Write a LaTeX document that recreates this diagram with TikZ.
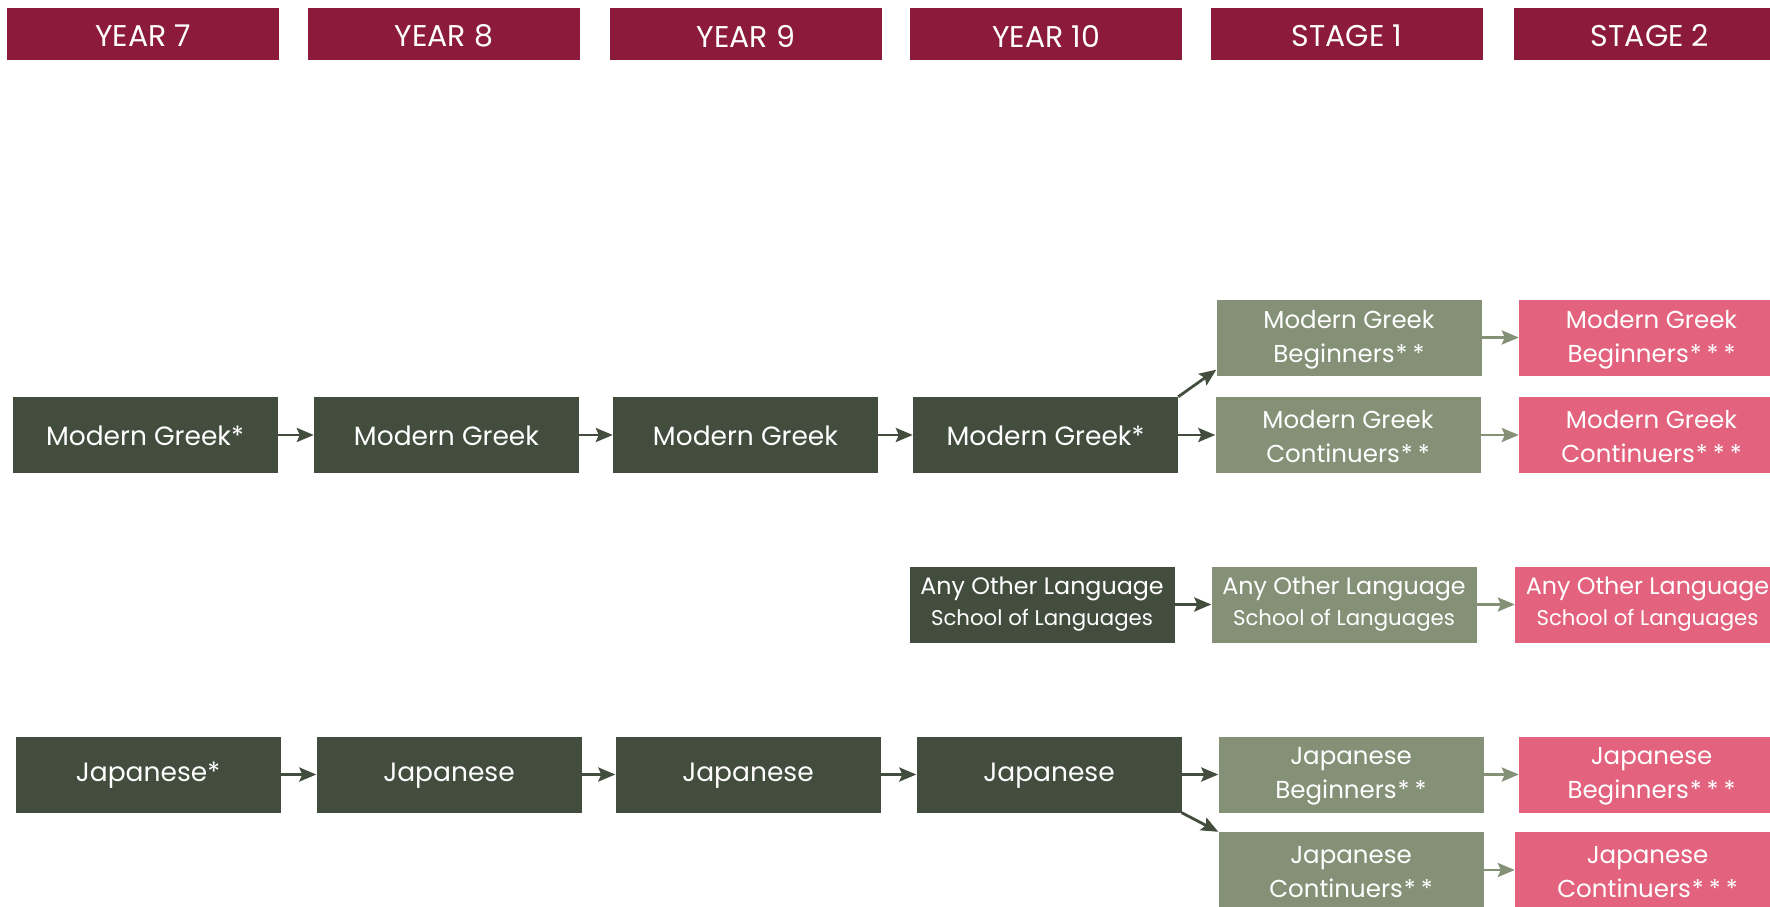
\documentclass[tikz,border=0pt]{standalone}
\usepackage{fontspec}
\setmainfont{Poppins}
\usetikzlibrary{arrows.meta}
\definecolor{hdr}{HTML}{8B1A3B}
\definecolor{dark}{HTML}{434D3E}
\definecolor{sage}{HTML}{849177}
\definecolor{pink}{HTML}{E3627D}
\newcommand{\twostar}{\kern1pt*\kern5pt*}
\newcommand{\threestar}{\kern1pt*\kern5pt*\kern5pt*}
\begin{document}
\begin{tikzpicture}[x=1pt,y=-1pt,
  box/.style={minimum width=265pt, minimum height=76pt, inner sep=0pt},
  words/.style={text=white, align=center, inner sep=0pt},
  hd/.style={box, minimum width=272pt, minimum height=52pt, fill=hdr,
    label={[words, yshift=-2pt, font=\fontsize{30}{34}\selectfont]center:{#1}}},
  yr/.style={box, fill=dark,
    label={[words, yshift=-1pt, font=\fontsize{26.5}{30}\selectfont]center:{#1}}},
  sone/.style={box, fill=sage,
    label={[words, yshift=-2pt, font=\fontsize{24.5}{34}\selectfont]center:{#1}}},
  stwo/.style={box, fill=pink,
    label={[words, yshift=-2pt, font=\fontsize{24.5}{34}\selectfont]center:{#1}}},
  other/.style={box, fill=#1,
    label={[words, font=\fontsize{23.8}{31}\selectfont]center:{Any Other Language\\{\fontsize{21.3}{24}\selectfont School of Languages}}}},
  arr/.style={line width=2.8pt, draw=dark, -{Stealth[length=17pt,width=14pt,inset=3pt]}},
  larr/.style={arr, draw=sage}]
\useasboundingbox (0,0) rectangle (1770,907);
\clip (0,0) rectangle (1770,907);
% column headings
\node[hd={YEAR 7}]  (h7)  at (143,34)  {};
\node[hd={YEAR 8}]  (h8)  at (444,34)  {};
\node[hd={YEAR 9}]  (h9)  at (746,34)  {};
\node[hd={YEAR 10}] (h10) at (1046,34) {};
\node[hd={STAGE 1}] (hs1) at (1347,34) {};
\node[hd={STAGE 2}] (hs2) at (1650,34) {};
% Modern Greek pathway
\node[yr={Modern Greek*}] (mg7)  at (145,435)    {};
\node[yr={Modern Greek}]  (mg8)  at (446.5,435)  {};
\node[yr={Modern Greek}]  (mg9)  at (745.5,435)  {};
\node[yr={Modern Greek*}] (mg10) at (1045.5,435) {};
\node[sone={Modern Greek\\Beginners\twostar}]    (mgb1) at (1349,337.5)   {};
\node[sone={Modern Greek\\Continuers\twostar}]   (mgc1) at (1348,435)     {};
\node[stwo={Modern Greek\\Beginners\threestar}]  (mgb2) at (1651.5,337.5) {};
\node[stwo={Modern Greek\\Continuers\threestar}] (mgc2) at (1651.5,435)   {};
% any other language, School of Languages
\node[other=dark] (ao10) at (1042,604.5)   {};
\node[other=sage] (ao1)  at (1344,604.5)   {};
\node[other=pink] (ao2)  at (1647.5,604.5) {};
% Japanese pathway
\node[yr={Japanese*}] (j7)  at (148,774.5)  {};
\node[yr={Japanese}]  (j8)  at (449,774.5)  {};
\node[yr={Japanese}]  (j9)  at (748,774.5)  {};
\node[yr={Japanese}]  (j10) at (1049,774.5) {};
\node[sone={Japanese\\Beginners\twostar}]    (jb1) at (1351,774.5)   {};
\node[sone={Japanese\\Continuers\twostar}]   (jc1) at (1351,870)     {};
\node[stwo={Japanese\\Beginners\threestar}]  (jb2) at (1651.5,774.5) {};
\node[stwo={Japanese\\Continuers\threestar}] (jc2) at (1647.5,870)   {};
% connectors
\draw[arr] (mg7) -- (mg8);
\draw[arr] (mg8) -- (mg9);
\draw[arr] (mg9) -- (mg10);
\draw[arr] (mg10.north east) -- ([yshift=6pt]mgb1.south west);
\draw[arr] (mg10) -- (mgc1);
\draw[larr] (mgb1) -- (mgb2);
\draw[larr] (mgc1) -- (mgc2);
\draw[arr] (ao10) -- (ao1);
\draw[larr] (ao1) -- (ao2);
\draw[arr] (j7) -- (j8);
\draw[arr] (j8) -- (j9);
\draw[arr] (j9) -- (j10);
\draw[arr] (j10) -- (jb1);
\draw[arr] (j10.south east) -- (jc1.north west);
\draw[larr] (jb1) -- (jb2);
\draw[larr] (jc1.east) -- (jc1.east -| jc2.west);
\end{tikzpicture}
\end{document}
